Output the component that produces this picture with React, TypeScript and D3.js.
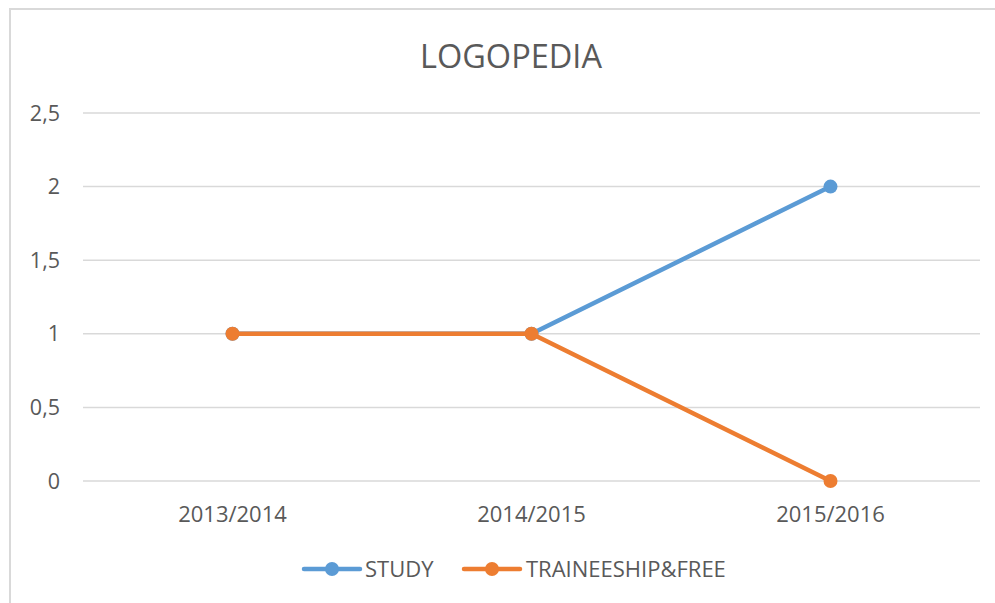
import React, { useRef, useEffect } from 'react';
import * as d3 from 'd3';

const categories = ['2013/2014', '2014/2015', '2015/2016'];
const studyValues = [1, 1, 2];
const traineeshipValues = [1, 1, 0];
const yTicks = [0, 0.5, 1, 1.5, 2, 2.5];
const seriesNames = ['STUDY', 'TRAINEESHIP&FREE'];
const seriesColors = ['#5b9bd5', '#ed7d31'];

const App = () => {
  const chartRef = useRef<SVGSVGElement | null>(null);

  useEffect(() => {
    if (!chartRef.current) return;
    const svg = d3.select(chartRef.current);
    svg.selectAll('*').remove();

    const font = "'Open Sans', sans-serif";
    const textColor = '#595959';

    // chart frame
    svg.append('rect')
      .attr('x', 10)
      .attr('y', 9)
      .attr('width', 1000)
      .attr('height', 620)
      .attr('fill', '#fff')
      .attr('stroke', '#d9d9d9')
      .attr('stroke-width', 2);

    const x = d3.scaleBand().domain(categories).range([83, 980]);
    const y = d3.scaleLinear().domain([0, 2.5]).range([481, 113]);

    // gridlines
    svg.append('g')
      .selectAll('line')
      .data(yTicks)
      .join('line')
      .attr('x1', 83)
      .attr('x2', 980)
      .attr('y1', d => y(d))
      .attr('y2', d => y(d))
      .attr('stroke', '#d9d9d9')
      .attr('stroke-width', 1.5);

    // y labels
    svg.append('g')
      .selectAll('text')
      .data(yTicks)
      .join('text')
      .attr('x', 60)
      .attr('y', d => y(d))
      .attr('dy', '0.35em')
      .attr('text-anchor', 'end')
      .style('font-family', font)
      .style('font-size', '21.5px')
      .attr('fill', textColor)
      .text(d => String(d).replace('.', ','));

    // x labels
    svg.append('g')
      .selectAll('text')
      .data(categories)
      .join('text')
      .attr('x', d => x(d)! + x.bandwidth() / 2)
      .attr('y', 514)
      .attr('dy', '0.35em')
      .attr('text-anchor', 'middle')
      .style('font-family', font)
      .style('font-size', '22px')
      .attr('fill', textColor)
      .text(d => d);

    // title
    svg.append('text')
      .attr('x', 511)
      .attr('y', 57)
      .attr('dy', '0.35em')
      .attr('text-anchor', 'middle')
      .style('font-family', font)
      .style('font-size', '32.5px')
      .attr('fill', textColor)
      .text('LOGOPEDIA');

    const dataSets = [studyValues, traineeshipValues];
    const line = d3.line<number>()
      .x((d, i) => x(categories[i])! + x.bandwidth() / 2)
      .y(d => y(d));

    dataSets.forEach((values, i) => {
      svg.append('path')
        .datum(values)
        .attr('fill', 'none')
        .attr('stroke', seriesColors[i])
        .attr('stroke-width', 4.5)
        .attr('stroke-linecap', 'round')
        .attr('d', line);

      svg.append('g')
        .selectAll('circle')
        .data(values)
        .join('circle')
        .attr('cx', (d, j) => x(categories[j])! + x.bandwidth() / 2)
        .attr('cy', d => y(d))
        .attr('r', 7)
        .attr('fill', seriesColors[i]);
    });

    // legend
    const legendX = [304, 464];
    const legendTextX = [365, 526];
    seriesNames.forEach((name, i) => {
      const g = svg.append('g').attr('transform', `translate(${legendX[i]},569)`);
      g.append('line')
        .attr('x1', 0)
        .attr('x2', 56)
        .attr('stroke', seriesColors[i])
        .attr('stroke-width', 4.5)
        .attr('stroke-linecap', 'round');
      g.append('circle')
        .attr('cx', 28)
        .attr('r', 7)
        .attr('fill', seriesColors[i]);
      g.append('text')
        .attr('x', legendTextX[i] - legendX[i])
        .attr('dy', '0.35em')
        .style('font-family', font)
        .style('font-size', '22px')
        .attr('fill', textColor)
        .text(name);
    });
  }, []);

  return (
    <svg
      ref={chartRef}
      width={995}
      height={603}
      style={{ position: 'absolute', left: 0, top: 0 }}
    />
  );
};

export default App;
